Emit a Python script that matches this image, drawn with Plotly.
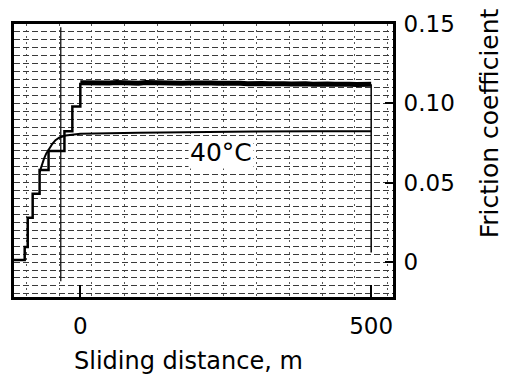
import plotly.graph_objects as go

# axis ticks
x_tick_vals = [0, 500]
x_tick_text = ["0", "500"]
y_tick_vals = [0, 0.05, 0.10, 0.15]
y_tick_text = ["0", "0.05", "0.10", "0.15"]

# run-in staircase (stepwise load increase), levels held until next step
step_x = [-114, -95.6, -90.4, -81.9, -70.0, -54.6, -27.3, -13.7, 0]
step_y = [0.0013, 0.0095, 0.028, 0.043, 0.058, 0.070, 0.0825, 0.098, 0.113]

# main friction trace (thick, noisy)
main_x = [0, 12.5, 25, 37.5, 50, 62.5, 75, 87.5, 100, 112.5, 125, 137.5, 150,
          162.5, 175, 187.5, 200, 212.5, 225, 237.5, 250, 262.5, 275, 287.5,
          300, 312.5, 325, 337.5, 350, 362.5, 375, 387.5, 400, 412.5, 425,
          437.5, 450, 462.5, 475, 487.5, 500]
main_y = [0.1130, 0.1128, 0.1131, 0.1127, 0.1129, 0.1132, 0.1128, 0.1130,
          0.1127, 0.1131, 0.1129, 0.1133, 0.1128, 0.1130, 0.1126, 0.1129,
          0.1131, 0.1127, 0.1129, 0.1126, 0.1128, 0.1125, 0.1127, 0.1124,
          0.1128, 0.1125, 0.1123, 0.1126, 0.1124, 0.1122, 0.1125, 0.1123,
          0.1121, 0.1124, 0.1122, 0.1120, 0.1123, 0.1121, 0.1119, 0.1122,
          0.1120]

# end of main trace: pen drop
drop_x = [500, 500]
drop_y = [0.112, 0.006]

# 40 degC trace
c40_x = [-70, -66.5, -62.5, -58.5, -53.5, -48, -42.7, -35.8, -25, -10.2, 0,
         100, 200, 300, 400, 500]
c40_y = [0.0567, 0.061, 0.065, 0.0685, 0.0718, 0.0745, 0.0768, 0.0785, 0.0797,
         0.0805, 0.0808, 0.0815, 0.082, 0.0822, 0.0825, 0.0825]

# recorder marker line
mark_x = [-33.6, -33.6]
mark_y = [0.148, -0.012]

label_40 = "40°C"
label_40_x = 242
label_40_y = 0.0693

x_title = "Sliding distance, m"
y_title = "Friction coefficient"

FONT = "DejaVu Sans"

fig = go.Figure()
fig.add_trace(go.Scatter(x=mark_x, y=mark_y, mode="lines",
                         line=dict(color="#111", width=1.3), hoverinfo="skip"))
fig.add_trace(go.Scatter(x=c40_x, y=c40_y, mode="lines",
                         line=dict(color="black", width=2)))
fig.add_trace(go.Scatter(x=step_x, y=step_y, mode="lines",
                         line=dict(color="black", width=2.5, shape="hv")))
fig.add_trace(go.Scatter(x=main_x, y=main_y, mode="lines",
                         line=dict(color="black", width=5)))
fig.add_trace(go.Scatter(x=drop_x, y=drop_y, mode="lines",
                         line=dict(color="black", width=1.5)))

fig.add_annotation(x=label_40_x, y=label_40_y, xref="x", yref="y", text=label_40,
                   showarrow=False, font=dict(family=FONT, size=25, color="black"),
                   bgcolor="white", borderpad=1, xanchor="center", yanchor="middle")
fig.add_annotation(x=186, y=-0.235, xref="x", yref="paper", text=x_title,
                   showarrow=False, xanchor="center", yanchor="middle",
                   font=dict(family=FONT, size=24, color="black"))
fig.add_annotation(x=1.255, y=0.635, xref="paper", yref="paper", text=y_title,
                   textangle=-90, showarrow=False, xanchor="center", yanchor="middle",
                   font=dict(family=FONT, size=25, color="black"))

fig.update_xaxes(range=[-114, 537.5], tickvals=x_tick_vals, ticktext=x_tick_text,
                 ticks="inside", ticklen=12, tickwidth=1.5, tickcolor="black",
                 showline=True, linewidth=3, linecolor="black", mirror=True,
                 showgrid=False, zeroline=False,
                 tickfont=dict(family=FONT, size=23, color="black"),
                 ticklabelstandoff=6,
                 minor=dict(tick0=20, dtick=56.5, showgrid=True, gridcolor="#555",
                            griddash="2px,4px", gridwidth=1, ticks=""))
fig.update_yaxes(range=[-0.022, 0.15], side="right", tickvals=y_tick_vals,
                 ticktext=y_tick_text,
                 ticks="inside", ticklen=8, tickwidth=1.5, tickcolor="black",
                 showline=True, linewidth=3, linecolor="black", mirror=True,
                 showgrid=True, gridcolor="#3a3a3a", griddash="6px,3px", gridwidth=1,
                 zeroline=False,
                 tickfont=dict(family=FONT, size=23, color="black"),
                 ticklabelstandoff=3,
                 minor=dict(tick0=0, dtick=0.005, showgrid=True, gridcolor="#3a3a3a",
                            griddash="6px,3px", gridwidth=1, ticks=""))

fig.update_layout(width=507, height=381, showlegend=False,
                  margin=dict(l=11, r=114, t=24, b=84),
                  plot_bgcolor="white", paper_bgcolor="white")

fig.write_html("out.html")
